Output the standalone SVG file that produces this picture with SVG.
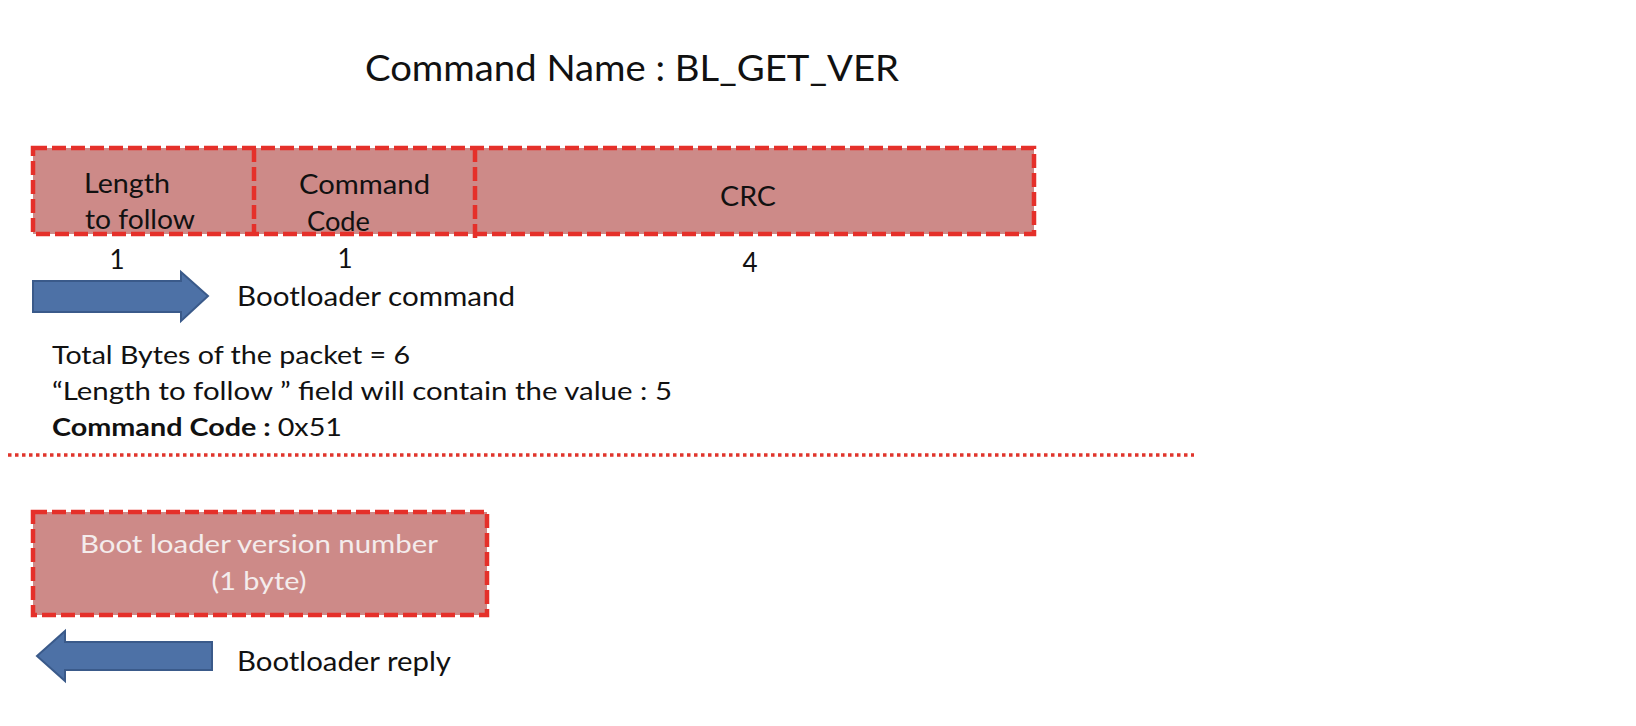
<svg xmlns="http://www.w3.org/2000/svg" width="1636" height="726" viewBox="0 0 1636 726">
<style>
text{font-family:Lato,"Open Sans","Liberation Sans",sans-serif;fill:#111}
.box{fill:#cd8a88;stroke:#e5302a;stroke-width:4.5;stroke-dasharray:14 5}
.div{stroke:#e5302a;stroke-width:4.5;stroke-dasharray:14 5;fill:none}
.arrow{fill:#4d71a6;stroke:#3a5a8a;stroke-width:2}
.lbl{font-size:26px}
.wt{fill:#f4ecec;font-size:25px}
</style>
<rect width="1636" height="726" fill="#fff"/>
<text x="365" y="81" font-size="37" textLength="534" lengthAdjust="spacingAndGlyphs">Command Name : BL_GET_VER</text>

<g id="packet">
<rect class="box" x="33" y="148" width="1001" height="86"/>
<line class="div" x1="254" y1="148" x2="254" y2="234"/>
<line class="div" x1="475" y1="148" x2="475" y2="242"/>
</g>
<g id="field-length">
<text class="lbl" x="84" y="193" textLength="86" lengthAdjust="spacingAndGlyphs">Length</text>
<text class="lbl" x="85" y="229" textLength="110" lengthAdjust="spacingAndGlyphs">to follow</text>
<text class="lbl" x="117" y="269" text-anchor="middle">1</text>
</g>
<g id="field-code">
<text class="lbl" x="299" y="194" textLength="131" lengthAdjust="spacingAndGlyphs">Command</text>
<text class="lbl" x="307" y="231" textLength="63" lengthAdjust="spacingAndGlyphs">Code</text>
<text class="lbl" x="345" y="268" text-anchor="middle">1</text>
</g>
<g id="field-crc">
<text class="lbl" x="748" y="206" text-anchor="middle" textLength="56" lengthAdjust="spacingAndGlyphs">CRC</text>
<text class="lbl" x="750" y="272" text-anchor="middle">4</text>
</g>

<g id="arrows">
<path class="arrow" d="M33 281 H181 V272 L208 296 L181 321 V312 H33 Z"/>
<path class="arrow" d="M212 642 H65 V631 L37 656 L65 681 V670 H212 Z"/>
</g>
<text class="lbl" x="237" y="306" textLength="278" lengthAdjust="spacingAndGlyphs">Bootloader command</text>

<g id="info">
<text x="52" y="364" font-size="25" textLength="358" lengthAdjust="spacingAndGlyphs">Total Bytes of the packet = 6</text>
<text x="52" y="400" font-size="25" textLength="620" lengthAdjust="spacingAndGlyphs">“Length to follow ” field will contain the value : 5</text>
<text x="52" y="436" font-size="25" textLength="290" lengthAdjust="spacingAndGlyphs"><tspan font-weight="bold">Command Code : </tspan>0x51</text>
</g>

<line x1="8" y1="455" x2="1194" y2="455" stroke="#e0352c" stroke-width="3.5" stroke-dasharray="3.5 3.5"/>

<g id="reply">
<rect class="box" x="33" y="512" width="454" height="103"/>
<text class="wt" x="259" y="553" text-anchor="middle" textLength="358" lengthAdjust="spacingAndGlyphs">Boot loader version number</text>
<text class="wt" x="259" y="590" text-anchor="middle" textLength="95" lengthAdjust="spacingAndGlyphs">(1 byte)</text>
</g>
<text class="lbl" x="237" y="671" textLength="214" lengthAdjust="spacingAndGlyphs">Bootloader reply</text>
</svg>
